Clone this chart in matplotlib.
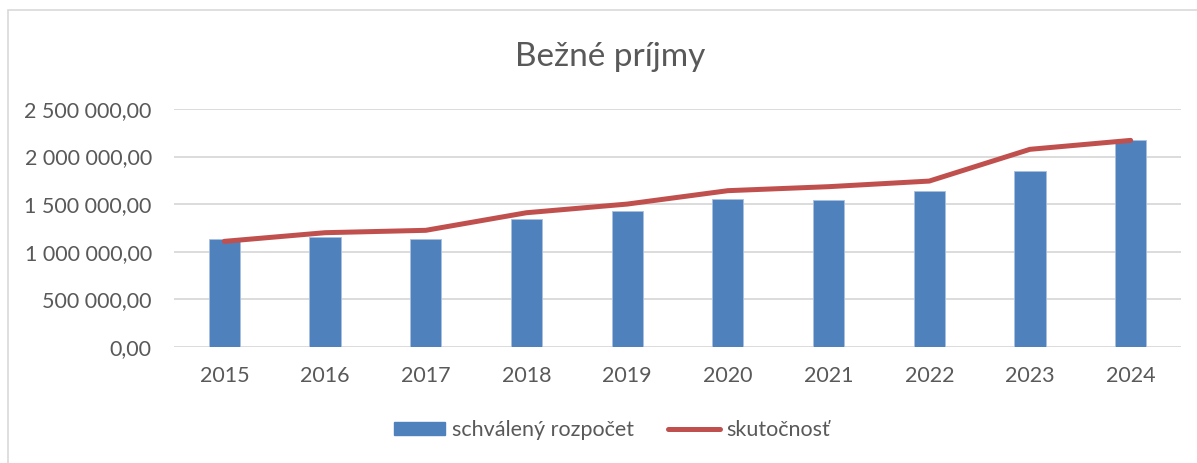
import numpy as np
import matplotlib
matplotlib.use('Agg')
from matplotlib import pyplot as plt
from matplotlib.patches import Rectangle
from matplotlib.lines import Line2D
from matplotlib.ticker import FuncFormatter

plt.rcParams['font.family'] = ['Lato', 'DejaVu Sans']

years = ['2015', '2016', '2017', '2018', '2019', '2020', '2021', '2022', '2023', '2024']
budget = [1129000, 1150000, 1136000, 1346000, 1430000, 1553000, 1543000, 1634000, 1844000, 2170000]
actual = [1108000, 1199000, 1224000, 1409000, 1500000, 1641000, 1683000, 1742000, 2076000, 2170000]
yticks = [0, 500000, 1000000, 1500000, 2000000, 2500000]

txt = '#595959'
blue = '#4f81bd'
red = '#c0504d'

fig = plt.figure(figsize=(11.97, 4.63), dpi=100)
ax = fig.add_axes([174/1197, 1 - 346.7/463, (1181 - 174)/1197, (346.7 - 109)/463])

x = np.arange(len(years))
ax.bar(x, budget, width=0.31, color=blue, edgecolor='#a9c0e0', linewidth=0.6, zorder=2)
ax.plot(x, actual, color=red, linewidth=3.6, solid_capstyle='round', zorder=3)

ax.set_xlim(-0.5, len(years) - 0.5)
ax.set_ylim(0, 2500000)
ax.set_yticks(yticks)
ax.set_xticks(x)
ax.set_xticklabels(years)


def fmt(v, pos):
    s = f'{v:,.2f}'
    return s.replace(',', ' ').replace('.', ',')


ax.yaxis.set_major_formatter(FuncFormatter(fmt))
ax.grid(axis='y', color='#d9d9d9', linewidth=1.3, zorder=0)
ax.set_axisbelow(True)
for s in ax.spines.values():
    s.set_visible(False)
ax.tick_params(axis='both', length=0, labelsize=15.5, labelcolor=txt)
ax.tick_params(axis='y', pad=16)
ax.tick_params(axis='x', pad=14)

fig.text(610/1197, 1 - 57/463, 'Bežné príjmy', ha='center', va='center', fontsize=24, color=txt)

handles = [Rectangle((0, 0), 1, 1, color=blue), Line2D([0], [0], color=red, linewidth=3.6, solid_capstyle='round')]
fig.legend(handles, ['schválený rozpočet', 'skutočnosť'], loc='center', bbox_to_anchor=(612/1197, 1 - 430/463),
           ncol=2, frameon=False, fontsize=15.5, labelcolor=txt, handlelength=2.4, handletextpad=0.3,
           columnspacing=1.6, handleheight=0.6)

fig.patches.append(Rectangle((8/1197, -0.1), 1.2, 1 - 10/463 + 0.1, transform=fig.transFigure,
                             fill=False, edgecolor='#d9d9d9', linewidth=1.2))

fig.savefig('out.png', dpi=100)
